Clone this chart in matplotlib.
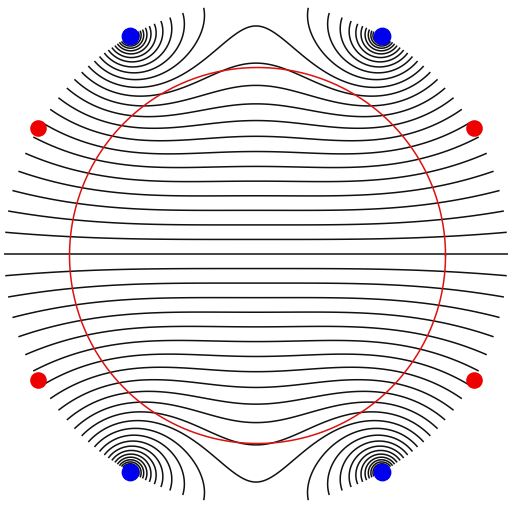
import numpy as np
import matplotlib
matplotlib.use("Agg")
import matplotlib.pyplot as plt

# electrode angles (degrees) on the unit disk boundary
red_angles = [30, 150, 210, 330]
blue_angles = [60, 120, 240, 300]
# sign of the current at each blue electrode (top sinks, bottom sources)
blue_sign = [-1, -1, 1, 1]

level_step = 0.2
n_levels = 23

# inner reference circle
ring_center = (0.006, -0.006)
ring_radius = 0.746

n = 900
xs = np.linspace(-1.02, 1.02, n)
X, Y = np.meshgrid(xs, xs)
V = np.zeros_like(X)
for a, s in zip(blue_angles, blue_sign):
    bx, by = np.cos(np.radians(a)), np.sin(np.radians(a))
    V += s * np.log(np.hypot(X - bx, Y - by))
V[np.hypot(X, Y) > 1.0] = np.nan

fig = plt.figure(figsize=(5.08, 5.10), dpi=100)
ax = fig.add_axes([0, 0, 1, 1])
levels = np.arange(-n_levels, n_levels + 1) * level_step
ax.contour(X, Y, V, levels=levels, colors="#111111", linewidths=1.1,
           linestyles="solid")

t = np.linspace(0, 2 * np.pi, 400)
ax.plot(ring_center[0] + ring_radius * np.cos(t),
        ring_center[1] + ring_radius * np.sin(t), color="#dd1111", lw=1.1)

rx = np.cos(np.radians(red_angles))
ry = np.sin(np.radians(red_angles))
ax.scatter(rx, ry, s=120, color="#ee0000", zorder=5)
bx = np.cos(np.radians(blue_angles))
by = np.sin(np.radians(blue_angles))
ax.scatter(bx, by, s=140, color="#0000ee", zorder=5)

ax.set_xlim(-256 / 252, 252 / 252)
ax.set_ylim(-255 / 252, 255 / 252)
ax.axis("off")
fig.savefig("out.png", dpi=100)
